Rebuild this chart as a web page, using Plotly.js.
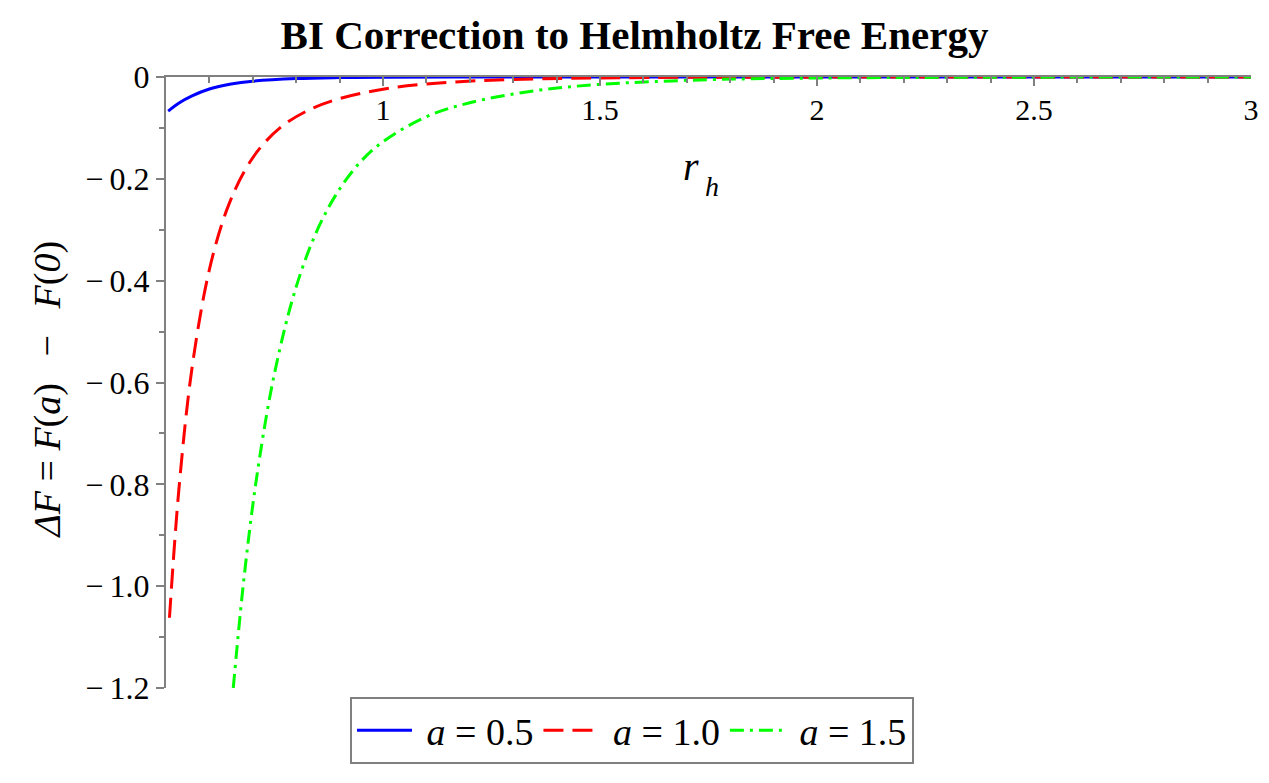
<!DOCTYPE html>
<html>
<head>
<meta charset="utf-8">
<script src="https://cdn.plot.ly/plotly-3.0.1.min.js"></script>
<style>
  html, body { margin: 0; padding: 0; background: #fff; }
  #plot { width: 1269px; height: 783px; }
</style>
</head>
<body>
<div id="plot"></div>
<script>
// values, r_h on x, Delta F on y
var rhBlue = [0.505, 0.53, 0.56, 0.60, 0.65, 0.70, 0.80, 0.90, 1.0, 1.25, 1.5, 2.0, 2.5, 3.0];
var dfBlue = [-0.067, -0.051, -0.037, -0.0235, -0.0138, -0.0082, -0.003, -0.0011, -0.0004, -0.0001, 0, 0, 0, 0];

var rhRed = [0.508, 0.53, 0.56, 0.60, 0.64, 0.68, 0.72, 0.77, 0.83, 0.90, 1.0, 1.1, 1.25, 1.5, 2.0, 2.5, 3.0];
var dfRed = [-1.062, -0.807, -0.571, -0.378, -0.261, -0.186, -0.136, -0.095, -0.0645, -0.0424, -0.024, -0.0138, -0.0062, -0.0018, -0.0002, -0.00005, 0];

var rhGreen = [0.655, 0.68, 0.71, 0.75, 0.80, 0.85, 0.90, 0.95, 1.0, 1.1, 1.2, 1.35, 1.5, 1.75, 2.0, 2.5, 3.0];
var dfGreen = [-1.2, -0.982, -0.780, -0.582, -0.412, -0.298, -0.220, -0.165, -0.127, -0.078, -0.0505, -0.0269, -0.0145, -0.0053, -0.002, -0.0003, -0.0001];

var xTickVals = [1, 1.5, 2, 2.5, 3];
var xTickText = ["1", "1.5", "2", "2.5", "3"];
var yTickVals = [0, -0.2, -0.4, -0.6, -0.8, -1.0, -1.2];
var yTickText = ["0", "\u2212\u20090.2", "\u2212\u20090.4", "\u2212\u20090.6", "\u2212\u20090.8", "\u2212\u20091.0", "\u2212\u20091.2"];

var serif = "Liberation Serif, Times New Roman, serif";
var axisGray = "#808080";

var data = [
  {x: rhBlue, y: dfBlue, type: "scatter", mode: "lines", name: "\u00a0<i>a</i> = 0.5",
   line: {color: "#0000ff", width: 3, shape: "spline"}},
  {x: rhRed, y: dfRed, type: "scatter", mode: "lines", name: "\u00a0<i>a</i> = 1.0",
   line: {color: "#ff0000", width: 3, shape: "spline", dash: "20px,9px"}},
  {x: rhGreen, y: dfGreen, type: "scatter", mode: "lines", name: "\u00a0<i>a</i> = 1.5",
   line: {color: "#00ff00", width: 3, shape: "spline", dash: "14px,6px,3px,6px"}}
];

var layout = {
  width: 1269, height: 783,
  margin: {l: 166, r: 18, t: 77, b: 95, autoexpand: false},
  paper_bgcolor: "#fff", plot_bgcolor: "#fff",
  font: {family: serif, color: "#000"},
  title: {text: "<b>BI Correction to Helmholtz Free Energy</b>",
          font: {family: serif, size: 41, color: "#000"},
          xref: "container", x: 0.5, xanchor: "center",
          yref: "container", y: 0.956, yanchor: "middle"},
  showlegend: true,
  legend: {orientation: "h", xref: "paper", x: 0.4295, xanchor: "center",
           yref: "paper", y: -0.0147, yanchor: "top",
           bordercolor: axisGray, borderwidth: 2, bgcolor: "#fff",
           font: {family: serif, size: 38, color: "#000"},
           itemwidth: 55},
  xaxis: {range: [0.5, 3], side: "top", showline: true, linecolor: axisGray, linewidth: 2,
          showgrid: false, zeroline: false, automargin: false,
          ticks: "inside", ticklen: 9, tickwidth: 2, tickcolor: axisGray,
          ticklabelposition: "inside", ticklabelstandoff: 16, ticklabeloverflow: "allow",
          tickvals: xTickVals, ticktext: xTickText,
          tickfont: {family: serif, size: 30, color: "#000"},
          minor: {dtick: 0.1, tick0: 0.5, ticks: "inside", ticklen: 6, tickwidth: 2, tickcolor: axisGray}},
  yaxis: {range: [-1.2, 0], showline: true, linecolor: axisGray, linewidth: 2,
          showgrid: false, zeroline: false, automargin: false,
          ticks: "outside", ticklen: 8, tickwidth: 2, tickcolor: axisGray,
          ticklabeloverflow: "allow",
          tickvals: yTickVals, ticktext: yTickText,
          tickfont: {family: serif, size: 32, color: "#000"},
          minor: {dtick: 0.1, ticks: "outside", ticklen: 5, tickwidth: 2, tickcolor: axisGray}},
  annotations: [
    {text: "<i>\u0394F</i> = <i>F</i>(<i>a</i>)\u2002\u2009\u2212\u2002\u2009<i>F</i>(<i>0</i>)", textangle: -90,
     xref: "paper", yref: "paper", x: -0.109, y: 0.488, xanchor: "center", yanchor: "middle",
     showarrow: false, font: {family: serif, size: 38, color: "#000"}},
    {text: "<i>r</i>", xref: "x", yref: "y", x: 1.71, y: -0.175,
     showarrow: false, font: {family: serif, size: 40, color: "#000"}},
    {text: "<i>h</i>", xref: "x", yref: "y", x: 1.757, y: -0.215,
     showarrow: false, font: {family: serif, size: 28, color: "#000"}}
  ]
};

Plotly.newPlot("plot", data, layout, {staticPlot: true});
</script>
</body>
</html>
